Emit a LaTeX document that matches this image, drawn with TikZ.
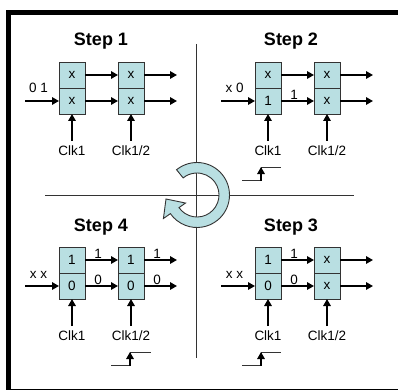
\documentclass[tikz,border=0pt]{standalone}
\usepackage{fontspec}
\setmainfont{Liberation Sans}
\usetikzlibrary{arrows.meta, positioning}
\definecolor{cellblue}{HTML}{B9DFE2}
\definecolor{inkgrey}{HTML}{333333}

\begin{document}
\begin{tikzpicture}[
    x=1pt, y=-1pt,
    cell/.style={rectangle, draw=inkgrey, line width=0.9pt, fill=cellblue, minimum size=26pt, inner sep=0pt, outer sep=0pt, font=\fontsize{13.5}{14}\selectfont},
    sig/.style={draw, -{Triangle[length=7pt, width=7.5pt]}, line width=1.5pt},
    clk/.style={minimum height=20pt, inner sep=0pt, outer sep=0pt, text height=9.7pt, text depth=0pt, font=\fontsize{13.5}{14}\selectfont},
    lab/.style={anchor=south, inner sep=0pt, pos=0.4, font=\fontsize{13.5}{14}\selectfont},
    title/.style={font=\fontsize{18}{20}\selectfont\bfseries},
    thin line/.style={draw=inkgrey, line width=0.8pt}
]
    \useasboundingbox (0,0) rectangle (398,390);
    % frame
    \fill [black] (6,10) rectangle (398,15);
    \fill [black] (6,10) rectangle (11,390);
    \fill [black] (6,389) rectangle (398,390);

    % cross
    \coordinate (hleft) at (45,195);
    \coordinate (hright) at (354,195);
    \coordinate (vtop) at (196,44);
    \coordinate (vbot) at (196,358);
    \path [thin line] (hleft) -- (hright);
    \path [thin line] (vtop) -- (vbot);

    % round arrow
    \coordinate (hub) at (197,195);
    \filldraw [fill=cellblue, draw=inkgrey, line width=0.9pt]
        ([shift={(129:32.5pt)}]hub) arc [start angle=129, end angle=-145, radius=32.5pt]
        -- ([shift={(-145:41pt)}]hub) -- (166,199) -- ([shift={(-145:14pt)}]hub)
        -- ([shift={(-145:22pt)}]hub) arc [start angle=-145, end angle=129, radius=22pt] -- cycle;

    % step 1
    \node [title] (t1) at (101,41) {Step 1};
    \node [cell] (s1a) at (72,75) {x};
    \node [cell, below=0pt of s1a] (s1b) {x};
    \node [cell, right=33pt of s1a] (s1c) {x};
    \node [cell, below=0pt of s1c] (s1d) {x};
    \node [clk, below=27pt of s1b] (c1a) {Clk1};
    \node [clk, below=27pt of s1d] (c1b) {Clk1/2};
    \coordinate [left=34pt of s1b] (s1in);
    \coordinate [right=33pt of s1c] (s1p);
    \coordinate [right=33pt of s1d] (s1q);
    \path [sig] (s1in) -- node [lab, above=8pt] {0 1} (s1b);
    \path [sig] (s1a) -- (s1c);
    \path [sig] (s1b) -- (s1d);
    \path [sig] (s1c) -- (s1p);
    \path [sig] (s1d) -- (s1q);
    \path [sig] (c1a) -- (s1b);
    \path [sig] (c1b) -- (s1d);

    % step 2
    \node [title] (t2) at (291,41) {Step 2};
    \node [cell] (s2a) at (268,75) {x};
    \node [cell, below=0pt of s2a] (s2b) {1};
    \node [cell, right=33pt of s2a] (s2c) {x};
    \node [cell, below=0pt of s2c] (s2d) {x};
    \node [clk, below=27pt of s2b] (c2a) {Clk1};
    \node [clk, below=27pt of s2d] (c2b) {Clk1/2};
    \coordinate [left=34pt of s2b] (s2in);
    \coordinate [right=33pt of s2c] (s2p);
    \coordinate [right=33pt of s2d] (s2q);
    \path [sig] (s2in) -- node [lab, above=8pt] {x 0} (s2b);
    \path [sig] (s2a) -- (s2c);
    \path [sig] (s2b) -- node [lab, above=1pt] {1} (s2d);
    \path [sig] (s2c) -- (s2p);
    \path [sig] (s2d) -- (s2q);
    \path [sig] (c2a) -- (s2b);
    \path [sig] (c2b) -- (s2d);

    % step 3
    \node [title] (t3) at (291,227) {Step 3};
    \node [cell] (s3a) at (268,260) {1};
    \node [cell, below=0pt of s3a] (s3b) {0};
    \node [cell, right=33pt of s3a] (s3c) {x};
    \node [cell, below=0pt of s3c] (s3d) {x};
    \node [clk, below=27pt of s3b] (c3a) {Clk1};
    \node [clk, below=27pt of s3d] (c3b) {Clk1/2};
    \coordinate [left=34pt of s3b] (s3in);
    \coordinate [right=33pt of s3c] (s3p);
    \coordinate [right=33pt of s3d] (s3q);
    \path [sig] (s3in) -- node [lab, above=7pt] {x x} (s3b);
    \path [sig] (s3a) -- node [lab, above=1pt] {1} (s3c);
    \path [sig] (s3b) -- node [lab, above=1pt] {0} (s3d);
    \path [sig] (s3c) -- (s3p);
    \path [sig] (s3d) -- (s3q);
    \path [sig] (c3a) -- (s3b);
    \path [sig] (c3b) -- (s3d);

    % step 4
    \node [title] (t4) at (101,227) {Step 4};
    \node [cell] (s4a) at (72,260) {1};
    \node [cell, below=0pt of s4a] (s4b) {0};
    \node [cell, right=33pt of s4a] (s4c) {1};
    \node [cell, below=0pt of s4c] (s4d) {0};
    \node [clk, below=27pt of s4b] (c4a) {Clk1};
    \node [clk, below=27pt of s4d] (c4b) {Clk1/2};
    \coordinate [left=34pt of s4b] (s4in);
    \coordinate [right=33pt of s4c] (s4p);
    \coordinate [right=33pt of s4d] (s4q);
    \path [sig] (s4in) -- node [lab, above=7pt] {x x} (s4b);
    \path [sig] (s4a) -- node [lab, above=1pt] {1} (s4c);
    \path [sig] (s4b) -- node [lab, above=1pt] {0} (s4d);
    \path [sig] (s4c) -- node [lab, above=1pt] {1} (s4p);
    \path [sig] (s4d) -- node [lab, above=1pt] {0} (s4q);
    \path [sig] (c4a) -- (s4b);
    \path [sig] (c4b) -- (s4d);

    % clock edges
    \coordinate (w2a) at (261,181);
    \coordinate (w2b) at (261,167);
    \path [thin line] (242,180) -| (w2b) -- (281,167);
    \path [sig] (w2a) -- (w2b);
    \coordinate (w3a) at (261,366);
    \coordinate (w3b) at (261,352);
    \path [thin line] (242,365) -| (w3b) -- (281,352);
    \path [sig] (w3a) -- (w3b);
    \coordinate (w4a) at (130,366);
    \coordinate (w4b) at (130,352);
    \path [thin line] (111,365) -| (w4b) -- (151,352);
    \path [sig] (w4a) -- (w4b);
\end{tikzpicture}
\end{document}
